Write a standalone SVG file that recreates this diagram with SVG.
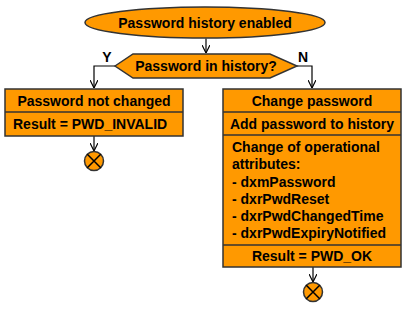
<svg xmlns="http://www.w3.org/2000/svg" width="404" height="309" viewBox="0 0 404 309">
<defs>
<style>
.s{fill:#FF9900;stroke:#333333;stroke-width:1.5}
.t{font-family:"Liberation Sans",Arial,sans-serif;font-weight:bold;font-size:14px;fill:#000}
.c{text-anchor:middle}
.ln{fill:none;stroke:#000;stroke-width:1.2}
</style>
<marker id="a" viewBox="0 0 10 10" refX="10" refY="5" markerWidth="8" markerHeight="8" markerUnits="userSpaceOnUse" orient="auto">
<path d="M0,0 L10,5 L0,10" fill="none" stroke="#000" stroke-width="1.5"/>
</marker>
</defs>
<rect width="404" height="309" fill="#fff"/>
<g id="connectors">
<path class="ln" d="M206,38.5 V53" marker-end="url(#a)"/>
<path class="ln" d="M115,66 H94 V88" marker-end="url(#a)"/>
<path class="ln" d="M297,66 H312 V88" marker-end="url(#a)"/>
<path class="ln" d="M94,136 V151" marker-end="url(#a)"/>
<path class="ln" d="M313,267 V282" marker-end="url(#a)"/>
<text class="t c" x="107" y="62">Y</text>
<text class="t c" x="303" y="62">N</text>
</g>
<g id="start">
<ellipse class="s" cx="205" cy="22.5" rx="120" ry="15.5"/>
<text class="t c" x="205" y="27.5">Password history enabled</text>
</g>
<g id="decision">
<polygon class="s" points="115,66 133,54 270,54 297,66 270,78 133,78"/>
<text class="t c" x="206" y="71">Password in history?</text>
</g>
<g id="left-box">
<rect class="s" x="5" y="89" width="178" height="47"/>
<line class="s" x1="5" y1="112" x2="183" y2="112"/>
<text class="t c" x="94" y="106">Password not changed</text>
<text class="t" x="13" y="129">Result = PWD_INVALID</text>
</g>
<g id="right-box">
<rect class="s" x="223" y="89" width="178" height="178"/>
<line class="s" x1="223" y1="112" x2="401" y2="112"/>
<line class="s" x1="223" y1="135" x2="401" y2="135"/>
<line class="s" x1="223" y1="245" x2="401" y2="245"/>
<text class="t c" x="312" y="106">Change password</text>
<text class="t c" x="312" y="129">Add password to history</text>
<text class="t" x="232" y="152">Change of operational</text>
<text class="t" x="232" y="169">attributes:</text>
<text class="t" x="232" y="187">- dxmPassword</text>
<text class="t" x="232" y="204">- dxrPwdReset</text>
<text class="t" x="232" y="221">- dxrPwdChangedTime</text>
<text class="t" x="232" y="238">- dxrPwdExpiryNotified</text>
<text class="t c" x="312" y="261">Result = PWD_OK</text>
</g>
<g id="end-left">
<circle class="s" cx="94" cy="161" r="9.5"/>
<path d="M87.3,154.3 L100.7,167.7 M100.7,154.3 L87.3,167.7" stroke="#000" stroke-width="1.5"/>
</g>
<g id="end-right">
<circle class="s" cx="313" cy="292" r="9.5"/>
<path d="M306.3,285.3 L319.7,298.7 M319.7,285.3 L306.3,298.7" stroke="#000" stroke-width="1.5"/>
</g>
</svg>
